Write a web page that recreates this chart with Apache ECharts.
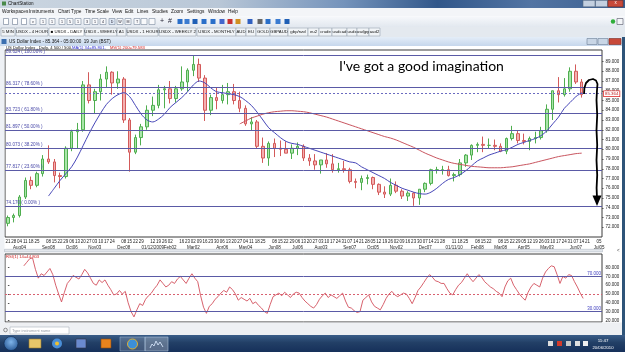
<!DOCTYPE html>
<html><head><meta charset="utf-8"><title>US Dollar Index</title>
<script src="https://cdn.jsdelivr.net/npm/echarts@6/dist/echarts.min.js"></script>
<style>html,body{margin:0;padding:0;overflow:hidden;background:#fff}#chart{width:625px;height:352px}</style>
</head><body><div id="chart"></div>
<script>
// ================= DATA (weekly) =================
const categories = [
'2008-07-21','2008-07-28','2008-08-04','2008-08-11','2008-08-18','2008-08-25','2008-09-01','2008-09-08','2008-09-15','2008-09-22','2008-09-29','2008-10-06','2008-10-13','2008-10-20','2008-10-27','2008-11-03','2008-11-10','2008-11-17','2008-11-24','2008-12-01','2008-12-08','2008-12-15','2008-12-22','2008-12-29',
'2009-01-05','2009-01-12','2009-01-19','2009-01-26','2009-02-02','2009-02-09','2009-02-16','2009-02-23','2009-03-02','2009-03-09','2009-03-16','2009-03-23','2009-03-30','2009-04-06','2009-04-13','2009-04-20','2009-04-27','2009-05-04','2009-05-11','2009-05-18','2009-05-25','2009-06-01','2009-06-08','2009-06-15','2009-06-22','2009-06-29','2009-07-06','2009-07-13','2009-07-20','2009-07-27','2009-08-03','2009-08-10','2009-08-17','2009-08-24','2009-08-31','2009-09-07','2009-09-14','2009-09-21','2009-09-28','2009-10-05','2009-10-12','2009-10-19','2009-10-26','2009-11-02','2009-11-09','2009-11-16','2009-11-23','2009-11-30','2009-12-07','2009-12-14','2009-12-21','2009-12-28',
'2010-01-04','2010-01-11','2010-01-18','2010-01-25','2010-02-01','2010-02-08','2010-02-15','2010-02-22','2010-03-01','2010-03-08','2010-03-15','2010-03-22','2010-03-29','2010-04-05','2010-04-12','2010-04-19','2010-04-26','2010-05-03','2010-05-10','2010-05-17','2010-05-24','2010-05-31','2010-06-07','2010-06-14','2010-06-21','2010-06-28','2010-07-05'];

const dayLabels = ['21','28','04','11','18','25','','08','15','22','29','06','13','20','27','03','10','17','24','','08','15','22','29',
'','12','19','26','02','','16','23','02','09','16','23','30','06','13','20','27','04','11','18','25','','08','15','22','29','06','13','20','27','03','10','17','24','31','07','14','21','28','05','12','19','26','02','09','16','23','30','07','14','21','28',
'','11','18','25','','08','15','22','','08','15','22','29','05','12','19','26','03','10','17','24','31','07','14','21','','05'];

const monthLabels = [[2,'Aug04'],[7,'Sep08'],[11,'Oct06'],[15,'Nov03'],[20,'Dec08'],[25,'01/12/2009'],[28,'Feb02'],[32,'Mar02'],[37,'Apr06'],[41,'May04'],[46,'Jun08'],[50,'Jul06'],[54,'Aug03'],[59,'Sep07'],[63,'Oct05'],[67,'Nov02'],[72,'Dec07'],[77,'01/11/10'],[81,'Feb08'],[85,'Mar08'],[89,'Apr05'],[93,'May03'],[98,'Jun07'],[102,'Jul05']];

const opens = [72.4,73.0,73.2,75.1,76.8,76.3,77.5,79.0,78.7,77.3,77.2,80.1,81.8,82.0,86.6,85.0,85.9,87.2,87.9,86.8,87.2,83.0,79.7,81.2,
82.3,84.0,84.5,86.1,86.2,85.2,86.2,86.9,88.1,88.7,87.3,84.0,85.3,85.0,85.6,85.9,85.0,84.2,82.6,82.8,80.3,79.1,80.6,80.1,80.0,79.6,80.1,80.3,79.1,78.8,78.4,78.9,78.5,77.9,78.0,77.9,76.7,76.6,77.0,77.1,76.4,75.6,75.4,76.3,75.7,75.2,75.5,75.0,75.9,76.5,77.9,77.9,
77.9,77.3,77.4,78.6,79.4,80.4,80.5,80.4,80.4,80.3,79.8,81.1,81.6,80.9,80.8,81.1,81.2,81.9,84.1,86.0,85.6,86.2,88.0,86.9];
const highs = [73.2,73.4,75.3,77.1,77.2,77.7,79.4,80.4,79.0,77.6,80.3,82.0,82.7,87.0,87.9,86.2,87.7,88.5,88.0,88.0,87.4,83.2,81.5,82.6,
84.5,85.4,86.6,86.5,87.0,86.5,88.5,88.3,89.6,89.3,87.6,85.6,86.3,86.6,86.8,86.7,85.9,84.5,83.3,83.0,81.2,80.8,81.1,80.9,80.8,80.5,80.7,80.5,79.5,79.5,78.9,79.6,79.5,78.6,78.8,78.1,77.0,77.3,77.4,77.2,76.5,76.2,77.0,76.7,75.9,75.7,75.6,75.9,76.6,78.0,78.2,78.3,
78.3,77.6,79.0,79.5,80.5,80.7,81.3,81.1,81.0,80.6,81.2,82.4,81.9,81.6,81.3,81.8,82.3,84.6,86.0,87.4,87.3,88.4,88.7,87.2];
const lows = [72.1,72.5,73.0,74.9,75.9,76.1,77.2,78.5,76.6,76.0,77.0,79.8,80.1,81.8,84.7,83.7,85.0,86.3,85.6,86.2,82.7,77.7,79.5,80.4,
82.0,83.4,84.2,84.2,84.7,84.8,86.0,85.9,87.5,86.9,82.9,83.5,84.1,84.7,84.6,84.6,83.8,82.4,81.9,80.1,78.6,78.3,79.2,79.3,79.6,79.0,79.4,78.8,78.3,77.9,77.5,78.1,77.6,77.6,77.6,76.5,76.0,75.8,76.4,75.9,75.3,75.0,75.2,75.5,74.9,74.7,74.2,74.3,75.6,76.3,77.5,77.4,
77.2,76.7,77.2,78.2,78.9,79.7,79.7,80.1,79.9,79.7,79.5,80.9,80.6,80.5,79.9,80.6,81.0,81.7,83.0,84.8,85.4,85.9,86.7,85.3];
const closes = [73.0,73.2,75.1,76.8,76.3,77.5,79.0,78.7,77.3,77.2,80.1,81.8,82.0,86.6,85.0,85.9,87.2,87.9,86.8,87.2,83.0,79.7,81.2,82.3,
84.0,84.5,86.1,86.2,85.2,86.2,86.9,88.1,88.7,87.3,84.0,85.3,85.0,85.6,85.9,85.0,84.2,82.6,82.8,80.3,79.1,80.6,80.1,80.0,79.6,80.1,80.3,79.1,78.8,78.4,78.9,78.5,77.9,78.0,77.9,76.7,76.6,77.0,77.1,76.4,75.6,75.4,76.3,75.7,75.2,75.5,75.0,75.9,76.5,77.9,77.9,77.9,
77.3,77.4,78.6,79.4,80.4,80.5,80.4,80.4,80.3,79.8,81.1,81.6,80.9,80.8,81.1,81.2,81.9,84.1,86.0,85.6,86.2,88.0,86.9,85.6];

const ma34 = [null,null,null,null,null,null,null,75.2,76.0,76.8,77.5,78.2,79.2,80.4,81.6,82.7,83.7,84.6,85.2,85.6,85.8,85.4,84.5,83.6,
83.0,82.8,83.1,83.6,84.3,84.8,85.3,85.9,86.6,87.0,86.8,86.3,85.9,85.8,85.7,85.6,85.4,85.0,84.5,83.8,83.0,82.2,81.7,81.2,80.8,80.6,80.5,80.3,80.1,79.9,79.7,79.5,79.3,79.1,78.9,78.7,78.6,78.2,77.9,77.6,77.3,77.0,76.6,76.3,76.0,75.8,75.6,75.45,75.4,75.6,76.0,76.5,
76.9,77.1,77.4,77.8,78.3,78.8,79.1,79.4,79.6,79.8,79.95,80.2,80.5,80.7,80.9,81.1,81.4,81.9,82.6,83.3,84.2,84.8,85.4,85.8];
const ma200 = [null,null,null,null,null,null,null,null,null,null,null,null,null,null,null,null,null,null,null,null,null,null,null,null,
null,null,null,null,null,null,null,null,null,null,null,null,null,null,null,null,82.6,82.9,83.2,83.4,83.6,83.75,83.85,83.9,83.95,83.95,83.9,83.85,83.75,83.6,83.45,83.3,83.1,82.9,82.7,82.5,82.3,82.1,81.9,81.7,81.5,81.3,81.15,80.95,80.7,80.45,80.2,79.9,79.6,79.35,79.1,78.9,
78.7,78.55,78.45,78.35,78.25,78.2,78.15,78.1,78.1,78.1,78.15,78.2,78.3,78.4,78.5,78.65,78.8,78.95,79.1,79.25,79.35,79.45,79.55,79.6];

// RSI(14), two readings per week
const rsi14 = [null,null,null,null,null,null,
82,86,90,91,78,68,73,71,75,79,
72,60,50,41,52,62,66,71,69,67,
72,78,74,68,62,60,66,63,66,60,
55,49,50,54,50,53,40,30,24,32,
39,37,44,48,51,56,60,66,62,58,
60,64,62,67,70,66,62,68,73,68,
64,48,35,28,36,39,44,47,51,54,
52,58,55,50,43,46,44,42,45,39,
41,37,34,30,28,38,47,49,51,48,
52,49,46,50,52,51,46,42,39,36,
34,38,44,48,51,46,49,47,45,48,
51,42,35,34,31,29,30,43,46,49,
41,36,34,32,38,45,50,53,49,47,
49,51,50,45,39,46,54,58,63,68,
72,69,65,64,62,62,56,51,49,55,
60,63,68,73,68,64,68,72,69,64,
61,58,56,53,51,47,58,65,68,60,
55,50,46,43,52,58,62,60,58,68,
75,79,82,81,72,62,70,68,72,71,
64,58,51,45];

const priceTicks = [72,73,74,75,76,77,78,79,80,81,82,83,84,85,86,87,88,89];
const rsiTicks = [20,30,40,50,60,70,80];
const fibLevels = [89.624,86.317,83.723,81.897,80.073,77.817,74.170];
const fibPercents = ['100.00%','78.60%','61.80%','50.00%','38.20%','23.60%','0.00%'];
const lastPriceText = '85.364';
const lastPriceLine = 85.70;
const rsiLast = 44.803;
const rsiBands = [70,30];
const rsiMid = 50;
const ma34Last = '85.801', ma200Last = '79.583';

// ================= CHART =================
const FF = '"Liberation Sans", Arial, sans-serif';
const chart = echarts.init(document.getElementById('chart'), null, {renderer:'canvas', width:625, height:352});
const monthMap = {}; monthLabels.forEach(p => monthMap[p[0]] = p[1]);

function R(x,y,w,h,fill,stroke,lw,z){return {type:'rect',silent:true,z:z||1,shape:{x:x,y:y,width:w,height:h},style:{fill:fill,stroke:stroke||null,lineWidth:lw||0.6}};}
function T(x,y,text,size,fill,extra){return {type:'text',silent:true,z:6,x:x,y:y,style:Object.assign({text:text,fontSize:size,fill:fill,fontFamily:FF,verticalAlign:'top'},extra||{})};}
const G = echarts.graphic;
const chrome = [];
// outer title bar
chrome.push(R(0,0,625,8,new G.LinearGradient(0,0,1,0,[{offset:0,color:'#cbd6e1'},{offset:0.35,color:'#b9c7d7'},{offset:0.55,color:'#7493bb'},{offset:0.7,color:'#31578a'},{offset:0.85,color:'#5274a3'},{offset:1,color:'#3a5f90'}])));
chrome.push(R(2,1.5,4,4,'#4a8a4a'));
chrome.push(T(8,1.3,'ChartStation',4.6,'#111'));
chrome.push(R(583,0.3,12,6.5,'#c3d0e0','#56687f'));
chrome.push(R(595.5,0.3,12,6.5,'#c3d0e0','#56687f'));
chrome.push(R(608,0.3,15,6.5,'#c8493a','#7a2a20'));
chrome.push(T(615.5,0.6,'x',4.5,'#fff',{align:'center'}));
// menu
chrome.push(R(0,8,625,8.5,'#f3f5f8'));
[['Workspaces',2],['Instruments',29],['Chart Type',58],['Time Scale',85],['View',112],['Edit',125],['Lines',137],['Studies',152],['Zoom',171],['Settings',187],['Window',208],['Help',228]].forEach(m=>chrome.push(T(m[1],9.6,m[0],4.8,'#111')));
// toolbar
chrome.push(R(0,16.5,625,10.5,new G.LinearGradient(0,0,0,1,[{offset:0,color:'#f6f8fb'},{offset:1,color:'#e2e8ef'}])));
const tb = [6,15,24,33,43,52,62,70,78,87,95,103,112,120,128,137,144,152,162,170,180,187,195,204,213,222,230,238,250,260,268,278,287];
tb.forEach((x,k)=>{
  if(k<3){chrome.push(R(x-2.5,18.5,5,6,'#fff','#6b7a90'));}
  else if(k<18){chrome.push(R(x-3,18.5,6,6,k===12?'#dfe8f5':'#f8f9fb','#7b8aa0'));chrome.push(T(x,19.6,['','','','v','1','1','1','5','1','3','1','4','D','W','M','T','',''][k]||'',3.6,'#223',{align:'center'}));}
  else if(k<20){chrome.push(T(x,18,k===18?'+':'#',7,'#223',{align:'center'}));}
  else {chrome.push(R(x-2.5,19,5,5,['#2a6fc9','#3b7bd0','#1f5fb5','#2a6fc9','#2a6fc9','#4466cc','#c83030','#d09020','#3060c0','#666'][k%10],null));}
});
chrome.push({type:'circle',silent:true,z:2,shape:{cx:613,cy:21.5,r:2.2},style:{fill:'#2fae3a'}});
chrome.push(R(617,18.5,6,6,'#f3f5f8','#556'));
// tabs
chrome.push(R(0,27,625,10,'#e4e9ef'));
[['5 MIN',1,15],['USDX - 4 HOUR',16,48],['\u25A0 USDX - DAILY',49,84,1],['USDX - WEEKLY',85,117],['A1',117,126],['USDX - 1 HOUR',127,158],['USDX - WEEKLY 2',159,196],['USDX - MONTHLY',197,236],['AUD',236,246],['EU',246,256],['GOLD',256,270],['GBPAUD',270,288],['gbp/nzd',288,308],['eu2',308,319],['crude',319,332],['usdcad',332,347],['usdx',347,357],['usdjpy',357,369],['aud2',369,380]].forEach(t=>{
  chrome.push(R(t[1],28,t[2]-t[1],8,t[3]?'#ffffff':'#f1f4f7','#98a4b4'));
  chrome.push(T((t[1]+t[2])/2,29.8,t[0],4.3,'#111',{align:'center'}));
});
// inner window title
chrome.push(R(0,37,622,9,new G.LinearGradient(0,0,0,1,[{offset:0,color:'#e4edf8'},{offset:1,color:'#c6d7ec'}])));
chrome.push(R(1.5,39,5,5,'#3b6fb0'));
chrome.push(T(9,39.2,'US Dollar Index - 85.364 - 05:00:00  19 Jun (BST)',4.6,'#111'));
chrome.push(R(587,38.5,10,6,'#c9d6e6','#6b7d95'));
chrome.push(R(598,38.5,10,6,'#c9d6e6','#6b7d95'));
chrome.push(R(609,38.5,12,6,'#c8493a','#7a2a20'));
// side strips
chrome.push(R(0,46,4.5,277,'#eef1f5'));
chrome.push(R(622,37,3,298,'#2e5479'));
// header line
chrome.push(T(6,46.3,'US Dollar Index , Daily, 4 500 / 500,',4.2,'#111'));
chrome.push(T(72,46.3,'MA(1) 34='+ma34Last+',',4.2,'#2a2ad0'));
chrome.push(T(110,46.3,'MV(1) 200='+ma200Last,4.2,'#d02020'));
// separator between panels
chrome.push(R(4.5,249.3,598,2.6,'#e3e7ec','#aab3bf',0.5));
chrome.push(T(617,248.6,'<',4.5,'#333'));
// RSI title
chrome.push(T(6,255.3,'RSI(1) 14='+rsiLast.toFixed(3),4.2,'#d02020'));
// bottom strip + search box
chrome.push(R(0,322.5,622,12.5,'#eef0f3'));
chrome.push({type:'circle',silent:true,z:2,shape:{cx:5.5,cy:330,r:1.8},style:{fill:'none',stroke:'#666',lineWidth:0.7}});
chrome.push(R(10,327,59,7,'#ffffff','#aab2bd'));
chrome.push(T(12,328.6,'Type instrument name',3.9,'#9aa0a8'));
// taskbar
chrome.push(R(0,335,625,17,new G.LinearGradient(0,0,0,1,[{offset:0,color:'#3a5d88'},{offset:0.45,color:'#223f66'},{offset:1,color:'#16305a'}])));
chrome.push({type:'circle',silent:true,z:2,shape:{cx:11,cy:343.5,r:7},style:{fill:new G.RadialGradient(0.5,0.4,0.7,[{offset:0,color:'#7fb4ea'},{offset:1,color:'#1e4d8a'}]),stroke:'#0d2a50',lineWidth:0.6}});
chrome.push(R(8,340.5,2.7,2.7,'#e84a2a'));chrome.push(R(11.3,340.5,2.7,2.7,'#5fbf2f'));chrome.push(R(8,343.8,2.7,2.7,'#3a8ee6'));chrome.push(R(11.3,343.8,2.7,2.7,'#f5c316'));
chrome.push(R(29,339,12,9,'#e8c66a','#9a7a2a'));
chrome.push({type:'circle',silent:true,z:2,shape:{cx:57,cy:343.5,r:5},style:{fill:'#4a8fd8'}});
chrome.push({type:'circle',silent:true,z:2,shape:{cx:57,cy:343.5,r:2},style:{fill:'#f0c030'}});
chrome.push(R(76,339,10,9,'#6a8acf','#334'));
chrome.push(R(101,339,10,9,'#e8831e','#8a4a10'));
chrome.push(R(120,337,25,14,'rgba(255,255,255,0.18)','#8fa9c8'));
chrome.push({type:'circle',silent:true,z:2,shape:{cx:132.5,cy:344,r:5},style:{fill:'#3c8fd9',stroke:'#e0b030',lineWidth:1}});
chrome.push(R(145,337,23,14,'rgba(255,255,255,0.28)','#a9bfd9'));
chrome.push({type:'polyline',silent:true,z:3,shape:{points:[[150,348],[152,344],[154,346],[156,341],[158,345],[160,342],[163,347]]},style:{stroke:'#c8d8ee',lineWidth:1,fill:null}});
[548,557,566,575,583].forEach((x,k)=>chrome.push(R(x,341,5,5,['#ddd','#d43a2a','#c8c8c8','#e0e0e0','#f0f0f0'][k],null)));
chrome.push(T(603,338.8,'11:47',4.4,'#fff',{align:'center'}));
chrome.push(T(603,345.5,'20/06/2010',4.2,'#fff',{align:'center'}));
// annotation (hand drawing over the chart)
chrome.push({type:'text',silent:true,z:100,x:339,y:59.8,style:{text:"I've got a good imagination",fontSize:14,fill:'#000',fontFamily:'Lato, "Open Sans", sans-serif',verticalAlign:'top'}});
chrome.push({type:'polyline',silent:true,z:100,shape:{points:[[584,94],[584.4,88],[586,83],[589,80],[593,79],[596,80.5],[597.5,84],[597,90],[596.5,100],[597.2,115],[596.5,130],[597.2,145],[596.5,160],[597.2,175],[596.6,188],[597,198]]},style:{stroke:'#000',lineWidth:1.8,fill:null,lineJoin:'round'}});
chrome.push({type:'polygon',silent:true,z:100,shape:{points:[[592.5,195.5],[601.5,195.5],[597,206]]},style:{fill:'#000'}});

const fibMarks = fibLevels.map((v,k)=>({yAxis:v,label:{formatter:v.toFixed(3)+' ( '+fibPercents[k]+' )'}}));
fibMarks.push({yAxis:lastPriceLine,lineStyle:{type:[2,2],color:'#6a6ac0',width:1},label:{position:'end',distance:2,formatter:lastPriceText,backgroundColor:'#fff',borderColor:'#e03030',borderWidth:0.8,padding:[0.5,1],color:'#c02020',fontSize:4.4}});

const option = {
  animation:false,
  backgroundColor:'#ffffff',
  graphic:{elements:chrome},
  grid:[
    {left:5,top:50,width:597,height:187,show:true,backgroundColor:'#fff',borderColor:'#3a3a3a',borderWidth:1},
    {left:5,top:254,width:597,height:68,show:true,backgroundColor:'#fff',borderColor:'#3a3a3a',borderWidth:1}
  ],
  xAxis:[
    {type:'category',gridIndex:0,data:categories,boundaryGap:true,axisLine:{show:false},axisTick:{show:false},splitLine:{show:false},
     axisLabel:{interval:0,margin:1.5,hideOverlap:false,formatter:function(v,i){var s='{d|'+(dayLabels[i]||' ')+'}';if(monthMap[i])s+='\n{m|'+monthMap[i]+'}';return s;},
       rich:{d:{fontSize:4.5,lineHeight:6,color:'#222',fontFamily:FF},m:{fontSize:4.5,lineHeight:6,color:'#222',fontFamily:FF}}}},
    {type:'value',gridIndex:1,min:-0.5,max:categories.length-0.5,show:false}
  ],
  yAxis:[
    {type:'value',gridIndex:0,position:'right',min:71.0,max:90.18,scale:true,splitLine:{show:false},axisLine:{show:false},
     axisTick:{show:true,customValues:priceTicks,length:1.5,lineStyle:{color:'#555'}},
     axisLabel:{customValues:priceTicks,formatter:v=>v.toFixed(3),fontSize:4.5,margin:3.5,color:'#222',fontFamily:FF}},
    {type:'value',gridIndex:1,position:'right',min:18.18,max:95.45,splitLine:{show:false},axisLine:{show:false},
     axisTick:{show:true,customValues:rsiTicks,length:1.5,lineStyle:{color:'#555'}},
     axisLabel:{customValues:rsiTicks,formatter:v=>v.toFixed(3),fontSize:4.5,margin:3.5,color:'#222',fontFamily:FF}}
  ],
  series:[
    {type:'candlestick',xAxisIndex:0,yAxisIndex:0,barWidth:3,
     data:closes.map((c,i)=>[opens[i],c,lows[i],highs[i]]),
     itemStyle:{color:'#a9e6a9',color0:'#f4b0b0',borderColor:'#4fae4f',borderColor0:'#d35a5a',borderWidth:1},
     markLine:{silent:true,symbol:'none',animation:false,
       lineStyle:{color:'#5a5aa6',width:1,type:'solid'},
       label:{position:'insideStartTop',distance:[1,1],fontSize:4.6,color:'#4848a8',fontFamily:FF},
       data:fibMarks}},
    {type:'line',name:'MA34',xAxisIndex:0,yAxisIndex:0,data:ma34,showSymbol:false,smooth:0.3,lineStyle:{color:'#4747b8',width:1},z:3},
    {type:'line',name:'MV200',xAxisIndex:0,yAxisIndex:0,data:ma200,showSymbol:false,smooth:0.3,lineStyle:{color:'#c9555f',width:1},z:3},
    {type:'line',name:'RSI',xAxisIndex:1,yAxisIndex:1,showSymbol:false,
     data:rsi14.map((v,j)=>[j/2-0.25,v]),lineStyle:{color:'#d2505c',width:0.9},
     markLine:{silent:true,symbol:'none',animation:false,
       data:[
         {yAxis:rsiBands[0],lineStyle:{color:'#5a5aa6',width:1,type:'solid'},label:{position:'insideEndTop',distance:[1,0.5],formatter:rsiBands[0].toFixed(3),color:'#4040c0',fontSize:4.5}},
         {yAxis:rsiBands[1],lineStyle:{color:'#5a5aa6',width:1,type:'solid'},label:{position:'insideEndTop',distance:[1,0.5],formatter:rsiBands[1].toFixed(3),color:'#4040c0',fontSize:4.5}},
         {yAxis:rsiMid,lineStyle:{color:'#d86070',width:1,type:[2,2]},label:{show:false}},
         {yAxis:rsiLast,lineStyle:{opacity:0},label:{position:'end',distance:2,formatter:rsiLast.toFixed(3),backgroundColor:'#fff',borderColor:'#e03030',borderWidth:0.8,padding:[0.5,1],color:'#c02020',fontSize:4.4}}
       ]}}
  ]
};
chart.setOption(option);
</script></body></html>
